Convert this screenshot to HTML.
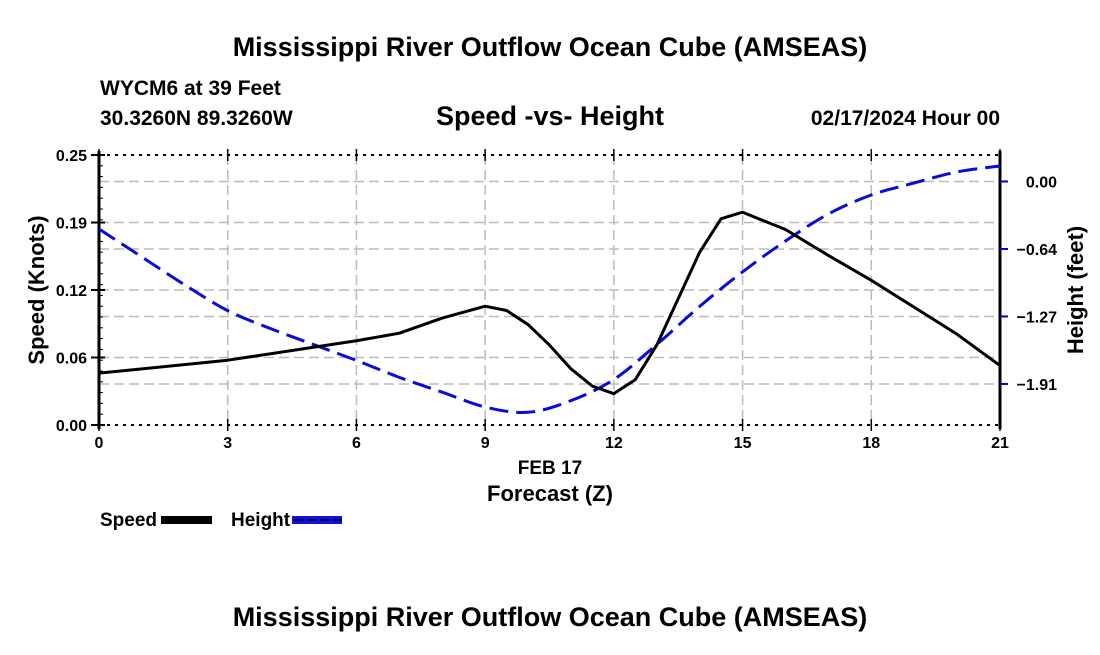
<!DOCTYPE html>
<html><head><meta charset="utf-8"><style>
body{margin:0;background:#fff;}
svg text{font-family:"Liberation Sans",sans-serif;font-weight:bold;fill:#000;}
</style></head><body>
<svg id="chart" width="1100" height="650" xmlns="http://www.w3.org/2000/svg">
<text x="550" y="56" font-size="27" text-anchor="middle">Mississippi River Outflow Ocean Cube (AMSEAS)</text>
<text x="100" y="95" font-size="21">WYCM6 at 39 Feet</text>
<text x="100" y="125" font-size="21">30.3260N  89.3260W</text>
<text x="550" y="125" font-size="27" text-anchor="middle">Speed -vs- Height</text>
<text x="1000" y="125" font-size="21" text-anchor="end">02/17/2024 Hour 00</text>
<g id="grid"></g>
<g id="axes"></g>
<g id="series"></g>
<text x="550" y="474" font-size="19" text-anchor="middle">FEB 17</text>
<text x="550" y="501" font-size="22" text-anchor="middle">Forecast (Z)</text>
<text transform="translate(44,290) rotate(-90)" font-size="22" text-anchor="middle">Speed (Knots)</text>
<text transform="translate(1083,290) rotate(-90)" font-size="22" text-anchor="middle">Height (feet)</text>
<g>
<text x="100" y="526" font-size="19">Speed</text>
<rect x="161" y="516" width="51" height="8" fill="#000"/>
<text x="231" y="526" font-size="19">Height</text>
<rect x="292" y="516" width="50" height="8" fill="#1010d0"/>
<line x1="294" y1="520" x2="342" y2="520" stroke="#000050" stroke-width="2" stroke-dasharray="9,4"/>
</g>
<text x="550" y="626" font-size="27" text-anchor="middle">Mississippi River Outflow Ocean Cube (AMSEAS)</text>
</svg>
<script>
const hours = [0,3,6,7,8,9,9.5,10,10.5,11,11.5,12,12.5,13,14,14.5,15,16,17,18,19,20,21];
const speed = [0.048,0.060,0.078,0.085,0.099,0.110,0.106,0.093,0.074,0.052,0.036,0.029,0.042,0.074,0.160,0.191,0.197,0.181,0.157,0.134,0.109,0.084,0.055];
const heightHours = [0,1,2,3,4,5,6,7,8,9,10,11,12,13,14,15,16,17,18,19,20,21];
const height = [-0.449,-0.713,-0.977,-1.22,-1.39,-1.54,-1.69,-1.85,-1.99,-2.13,-2.18,-2.07,-1.87,-1.54,-1.18,-0.854,-0.562,-0.307,-0.128,-0.014,0.090,0.146];
const xTicks = [0,3,6,9,12,15,18,21];
const speedTicks = [0,0.0625,0.125,0.1875,0.25];
const speedTickLabels = ["0.00","0.06","0.12","0.19","0.25"];
const heightTicks = [0,-0.6375,-1.275,-1.9125];
const heightTickLabels = ["0.00","\u22120.64","\u22121.27","\u22121.91"];

const X0=99,X1=1000,Y0=155,Y1=425;
const xs=h=>X0+(h/21)*(X1-X0);
const ys=v=>Y1-(v/0.25)*(Y1-Y0);
const yh=v=>Y1-((v+2.3)/2.55)*(Y1-Y0);
const NS="http://www.w3.org/2000/svg";
function mk(tag,attrs,parent){const e=document.createElementNS(NS,tag);for(const k in attrs)e.setAttribute(k,attrs[k]);parent.appendChild(e);return e;}
function smooth(pts){let d='M'+pts[0][0]+','+pts[0][1];
 for(let i=0;i<pts.length-1;i++){const p0=pts[i-1]||pts[i],p1=pts[i],p2=pts[i+1],p3=pts[i+2]||p2;
  const c1=[p1[0]+(p2[0]-p0[0])/6,p1[1]+(p2[1]-p0[1])/6],c2=[p2[0]-(p3[0]-p1[0])/6,p2[1]-(p3[1]-p1[1])/6];
  d+=' C'+c1+' '+c2+' '+p2;}
 return d;}
const grid=document.getElementById('grid'),axes=document.getElementById('axes'),series=document.getElementById('series');
const gy=[];
speedTicks.forEach(v=>{if(v>0&&v<0.25)gy.push(ys(v));});
heightTicks.forEach(v=>gy.push(yh(v)));
gy.forEach(y=>{
 const l=mk('line',{x1:X0,x2:X1,y1:y,y2:y,stroke:'#bbb','stroke-width':1.5,'stroke-dasharray':'10,5'},grid);
 
 });
xTicks.forEach(t=>{const x=xs(t);
 if(t>0&&t<21){const l=mk('line',{x1:x,x2:x,y1:Y0,y2:Y1,stroke:'#bbb','stroke-width':1.5,'stroke-dasharray':'10,5'},grid);
 
 }
 const tk=mk('line',{x1:x,x2:x,y1:Y1-6,y2:Y1+6,stroke:'#000','stroke-width':1.5},axes);
 
 
 const tx=mk('line',{x1:x,x2:x,y1:Y0-6,y2:Y0+6,stroke:'#000','stroke-width':1.5},axes);
 
 
 const lb=mk('text',{x:x,y:Y1+23,'font-size':16,'text-anchor':'middle'},axes);lb.textContent=t;
 
 });
[Y0,Y1].forEach(y=>{const l=mk('line',{x1:X0,x2:X1,y1:y,y2:y,stroke:'#000','stroke-width':2,'stroke-dasharray':'3,5'},axes);
 
 });
const la=mk('line',{x1:X0,x2:X0,y1:Y0-4,y2:Y1+4,stroke:'#000','stroke-width':3},axes);


const ra=mk('line',{x1:X1,x2:X1,y1:Y0-4,y2:Y1+4,stroke:'#000','stroke-width':3},axes);


for(let k=0;k<=25;k++){const y=Y1-k*(Y1-Y0)/25;
 const m=mk('line',{x1:X0,x2:X0+4,y1:y,y2:y,stroke:'#000','stroke-width':1},axes);
 
 }
speedTicks.forEach((v,i)=>{const y=ys(v);
 const t=mk('line',{x1:X0-8,x2:X0+6,y1:y,y2:y,stroke:'#000','stroke-width':2},axes);
 
 
 const lb=mk('text',{x:X0-12,y:y+6,'font-size':16,'text-anchor':'end'},axes);lb.textContent=speedTickLabels[i];
 
 });
heightTicks.forEach((v,i)=>{const y=yh(v);
 const t=mk('line',{x1:X1,x2:X1+8,y1:y,y2:y,stroke:'#0000cc','stroke-width':2},axes);
 
 
 const lb=mk('text',{x:1057,y:y+6,'font-size':16,'text-anchor':'end'},axes);lb.textContent=heightTickLabels[i];
 
 });
const hp=mk('path',{d:smooth(heightHours.map((h,i)=>[xs(h),yh(height[i])])),fill:'none',stroke:'#0a0adc','stroke-width':3,'stroke-dasharray':'19,8'},series);


const sp=mk('polyline',{points:hours.map((h,i)=>xs(h)+','+ys(speed[i])).join(' '),fill:'none',stroke:'#000','stroke-width':3,'stroke-linejoin':'round'},series);


</script>
</body></html>
